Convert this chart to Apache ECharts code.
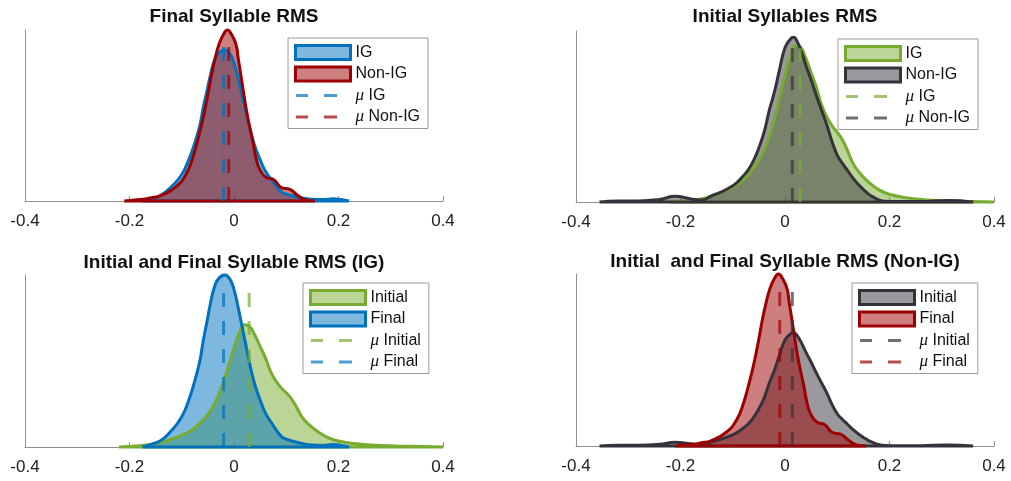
<!DOCTYPE html>
<html><head><meta charset="utf-8">
<script src="https://cdn.jsdelivr.net/npm/echarts@6/dist/echarts.min.js"></script>
<style>html,body{margin:0;padding:0;background:#fff}#c{width:1011px;height:481px}</style>
</head><body><div id="c"></div>
<script>
// ---- data (kernel density estimates) ----
const xTicks = [-0.4, -0.2, 0, 0.2, 0.4];

const igFinalX = [-0.175,-0.16,-0.14,-0.12,-0.10,-0.085,-0.074,-0.065,-0.059,-0.052,-0.045,-0.038,-0.03,-0.0175,-0.008,0.000,0.008,0.015,0.021,0.029,0.036,0.043,0.05,0.06,0.072,0.082,0.091,0.10,0.113,0.13,0.15,0.17,0.19,0.205,0.22];
const igFinalY = [0,0.15,0.4,1.0,1.86,3.04,4.2,5.36,6.53,7.68,8.86,9.8,10.35,10.6,10.35,9.7,8.6,7.5,6.57,5.3,4.3,3.53,2.9,2.1,1.48,1.0,0.64,0.48,0.35,0.22,0.12,0.1,0.16,0.1,0];

const nonigFinalX = [-0.21,-0.18,-0.16,-0.142,-0.113,-0.092,-0.079,-0.070,-0.062,-0.055,-0.049,-0.043,-0.036,-0.029,-0.02,-0.0125,-0.005,0.004,0.008,0.013,0.018,0.023,0.029,0.036,0.042,0.05,0.0625,0.075,0.091,0.107,0.123,0.139,0.155];
const nonigFinalY = [0,0.1,0.22,0.36,0.94,1.86,3.04,4.2,5.36,6.53,7.68,8.86,10.02,10.96,11.7,12,11.7,10.96,10.02,8.86,7.68,6.53,5.36,4.2,3.04,2.16,1.63,1.52,0.94,0.82,0.36,0.06,0];

const igInitialX = [-0.22,-0.18,-0.15,-0.12,-0.10,-0.08,-0.06,-0.04,-0.02,-0.01,0.00,0.01,0.02,0.03,0.04,0.05,0.06,0.07,0.08,0.09,0.10,0.11,0.12,0.13,0.14,0.16,0.18,0.20,0.23,0.28,0.34,0.40];
const igInitialY = [0,0.085,0.21,0.48,0.72,1.06,1.64,2.5,4.03,5.09,6.1,7.0,7.53,7.42,6.89,6.2,5.51,4.66,4.08,3.66,3.34,2.97,2.44,1.86,1.48,0.95,0.58,0.37,0.21,0.085,0.04,0];

const nonigInitialX = [-0.355,-0.32,-0.28,-0.24,-0.21,-0.18,-0.16,-0.14,-0.12,-0.10,-0.09,-0.08,-0.07,-0.06,-0.05,-0.04,-0.03,-0.02,-0.01,0.00,0.01,0.016,0.02,0.03,0.04,0.05,0.06,0.07,0.08,0.09,0.10,0.11,0.12,0.13,0.14,0.15,0.16,0.17,0.18,0.19,0.22,0.26,0.31,0.36];
const nonigInitialY = [0,0.05,0.05,0.12,0.27,0.15,0.09,0.3,0.5,0.78,0.98,1.25,1.55,2.0,2.6,3.35,4.4,5.3,6.4,7.4,7.8,7.9,7.85,7.3,6.55,5.85,5.1,4.4,3.7,2.9,2.25,1.85,1.5,1.15,0.85,0.6,0.38,0.22,0.1,0.04,0.02,0.02,0.07,0];

const meanIGFinal = -0.02;
const meanNonIGFinal = -0.01;
const meanIGInitial = 0.029;
const meanNonIGInitial = 0.014;

const panelTitles = ['Final Syllable RMS', 'Initial Syllables RMS', 'Initial and Final Syllable RMS (IG)', 'Initial  and Final Syllable RMS (Non-IG)'];
const panelLabels = [
  ['IG', 'Non-IG', 'μ IG', 'μ Non-IG'],
  ['IG', 'Non-IG', 'μ IG', 'μ Non-IG'],
  ['Initial', 'Final', 'μ Initial', 'μ Final'],
  ['Initial', 'Final', 'μ Initial', 'μ Final']
];
const yMax = [12, 8.2, 10.6, 12];

// ---- styling ----
const BLUE = [0, 114, 189], RED = [156, 0, 0], GREEN = [119, 172, 48], DARK = [53, 50, 60];
const rgba = (c, a) => `rgba(${c[0]},${c[1]},${c[2]},${a})`;
const FONT = 'Liberation Sans, Arial, Helvetica, sans-serif';

const curves = {
  igFinal: { x: igFinalX, y: igFinalY, c: BLUE },
  nonigFinal: { x: nonigFinalX, y: nonigFinalY, c: RED },
  igInitial: { x: igInitialX, y: igInitialY, c: GREEN },
  nonigInitial: { x: nonigInitialX, y: nonigInitialY, c: DARK }
};
const panels = [
  { curves: ['igFinal', 'nonigFinal'], means: [meanIGFinal, meanNonIGFinal] },
  { curves: ['igInitial', 'nonigInitial'], means: [meanIGInitial, meanNonIGInitial] },
  { curves: ['igInitial', 'igFinal'], means: [meanIGInitial, meanIGFinal] },
  { curves: ['nonigInitial', 'nonigFinal'], means: [meanNonIGInitial, meanNonIGFinal] }
];

const gridBoxes = [
  { left: 25, top: 30, width: 418, height: 171 },
  { left: 576, top: 31, width: 418, height: 171 },
  { left: 25, top: 275, width: 418, height: 172 },
  { left: 576, top: 274, width: 418, height: 172 }
];
const titlePos = [{ x: 234, y: 7 }, { x: 785, y: 7 }, { x: 234, y: 253 }, { x: 785, y: 252 }];
const legendPos = [{ left: 288, top: 38 }, { left: 838, top: 39 }, { left: 303, top: 283 }, { left: 852, top: 283 }];

const dashIcon = 'path://M0,0L0.01,0M55,14L54.99,14M0.5,5.5h12v3h-12ZM28.5,5.5h13v3h-13Z';

const series = [], legends = [], xAxes = [], yAxes = [], titles = [];
panels.forEach((p, pi) => {
  xAxes.push({
    type: 'value', gridIndex: pi, min: xTicks[0], max: xTicks[xTicks.length - 1], interval: xTicks[1] - xTicks[0],
    axisLine: { show: true, onZero: false, lineStyle: { color: '#8f8f8f', width: 1 } },
    axisTick: { show: true, inside: true, length: 5, lineStyle: { color: '#8f8f8f' } },
    axisLabel: { fontSize: 17, color: '#222', fontFamily: FONT, margin: 12 },
    splitLine: { show: false }
  });
  yAxes.push({
    type: 'value', gridIndex: pi, min: 0, max: yMax[pi],
    axisLine: { show: true, onZero: false, lineStyle: { color: '#8f8f8f', width: 1 } },
    axisTick: { show: false }, axisLabel: { show: false }, splitLine: { show: false }
  });
  titles.push({
    text: panelTitles[pi], left: titlePos[pi].x, top: titlePos[pi].y, textAlign: 'center', padding: 0,
    textStyle: { fontSize: 19, fontWeight: 'bold', color: '#111', fontFamily: FONT }
  });
  const legendData = [];
  p.curves.forEach((key, k) => {
    const cv = curves[key];
    const data = cv.x.map((x, i) => [x, cv.y[i]]);
    data.push([cv.x[cv.x.length - 1], 0], [cv.x[0], 0]);
    const name = panelLabels[pi][k] + '#' + pi;
    series.push({
      type: 'line', name, xAxisIndex: pi, yAxisIndex: pi, data, smooth: 0.5,
      symbol: 'none', showSymbol: false, clip: false, silent: true, animation: false,
      lineStyle: { color: rgba(cv.c, 1), width: 3 },
      itemStyle: { color: rgba(cv.c, 1) },
      areaStyle: { color: rgba(cv.c, 1), opacity: 0.5 }
    });
    legendData.push({ name, icon: 'rect', itemStyle: { color: rgba(cv.c, 0.5), borderColor: rgba(cv.c, 1), borderWidth: 3 } });
  });
  p.curves.forEach((key, k) => {
    const cv = curves[key];
    const name = panelLabels[pi][k + 2] + '#' + pi;
    const m = p.means[k];
    series.push({
      type: 'line', name, xAxisIndex: pi, yAxisIndex: pi,
      data: [[m, 0], [m, 0.9 * yMax[pi]]],
      symbol: 'none', showSymbol: false, silent: true, animation: false,
      lineStyle: { color: rgba(cv.c, 0.7), width: 3, type: [14, 14] },
      itemStyle: { color: rgba(cv.c, 0.7) }
    });
    legendData.push({ name, icon: dashIcon, itemStyle: { color: rgba(cv.c, 0.7), borderWidth: 0 } });
  });
  legends.push({
    left: legendPos[pi].left, top: legendPos[pi].top, orient: 'vertical',
    itemWidth: 55, itemHeight: 14, itemGap: 4.5, padding: [6, 8, 3, 6],
    borderColor: '#9a9a9a', borderWidth: 1, backgroundColor: '#fff', selectedMode: false,
    data: legendData,
    formatter: (name) => {
      const t = name.split('#')[0];
      return t.startsWith('μ') ? '{m|μ}{t|' + t.slice(1) + '}' : '{t|' + t + '}';
    },
    textStyle: {
      fontSize: 16, color: '#111', fontFamily: FONT,
      rich: {
        t: { fontSize: 16, fontFamily: FONT, color: '#111' },
        m: { fontSize: 17, fontFamily: 'Liberation Serif, DejaVu Serif, serif', fontStyle: 'italic', color: '#111' }
      }
    }
  });
});

const chart = echarts.init(document.getElementById('c'), null, { renderer: 'canvas' });
chart.setOption({
  animation: false,
  backgroundColor: '#fff',
  title: titles,
  grid: gridBoxes.map(g => Object.assign({ containLabel: false }, g)),
  xAxis: xAxes,
  yAxis: yAxes,
  legend: legends,
  series
});
</script>
</body></html>
